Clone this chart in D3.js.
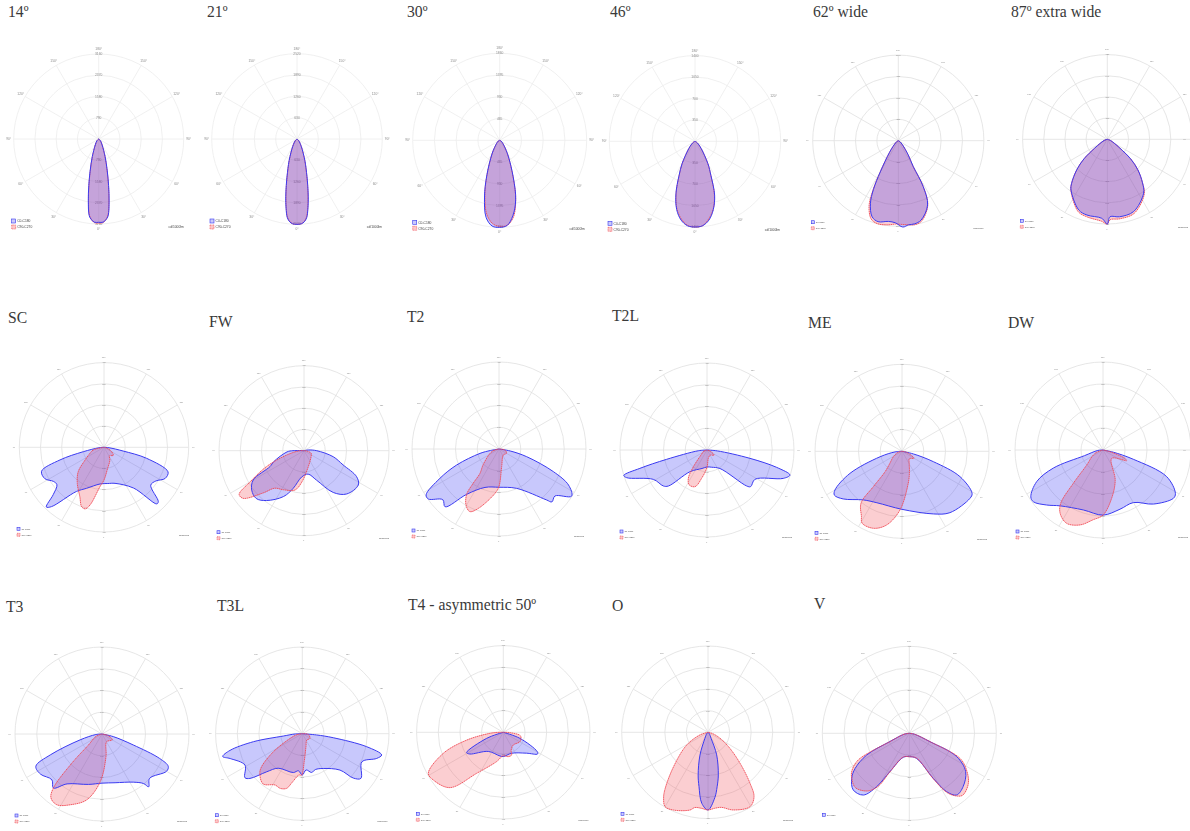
<!DOCTYPE html>
<html>
<head>
<meta charset="utf-8">
<title>Beam distributions</title>
<script src="https://cdn.jsdelivr.net/npm/d3@7"></script>
<style>
  html, body { margin: 0; background: #fff; }
  svg { display: block; }
  .ttl { font-family: "Liberation Serif", serif; font-size: 15.7px; fill: #3a3a3a; }
  .lbl { font-family: "Liberation Sans", sans-serif; fill: #8a8a8a; }
  .leg { font-family: "Liberation Sans", sans-serif; fill: #444; }
</style>
</head>
<body>
<svg id="chart" width="1190" height="831"></svg>
<script>
// ── Data: [angle in degrees, intensity as % of the outer ring] ─────────────────
const d14a = [[-90,0],[-45,3],[-30,8],[-20,22],[-15,39],[-12,56],[-9.5,74],[-7,91],[-5,95.5],[-3,98],[0,98],[3,98],[5,95.5],[7,91],[9.5,74],[12,56],[15,39],[20,22],[30,8],[45,3],[90,0]];
const d14b = [[-90,0],[-45,3],[-30,8],[-20,21.5],[-15,38],[-12,55],[-9.5,73],[-7,90],[-5,95.5],[-3,98.5],[0,99],[3,98.5],[5,95.5],[7,90],[9.5,73],[12,55],[15,38],[20,21.5],[30,8],[45,3],[90,0]];
const d21a = [[-90,0],[-45,3],[-30,10],[-20,27],[-15,45],[-13,56],[-11,69],[-9,82],[-7,93],[-5,97.5],[-3,99.5],[0,100],[3,99.5],[5,97.5],[7,93],[9,82],[11,69],[13,56],[15,45],[20,27],[30,10],[45,3],[90,0]];
const d21b = [[-90,0],[-45,3],[-30,10],[-20,26.5],[-15,44],[-13,55],[-11,68],[-9,81],[-7,92],[-5,97],[-3,99.5],[0,100],[3,99.5],[5,97],[7,92],[9,81],[11,68],[13,55],[15,44],[20,26.5],[30,10],[45,3],[90,0]];
const d30a = [[-90,0],[-60,2],[-45,5],[-30,17],[-20,43.6],[-15,67.5],[-10,90],[-5,99],[0,100],[5,98.3],[10,87.7],[15,71],[20,46],[30,18],[45,5],[60,2],[90,0]];
const d30b = [[-90,0],[-60,2],[-45,5],[-30,17],[-20,43],[-15,66],[-10,86],[-5,96],[0,99],[5,98],[10,90],[15,71],[20,45],[30,17.5],[45,5],[60,2],[90,0]];
const d46a = [[-90,0],[-60,2],[-50,5],[-40,11.6],[-30,30],[-25,44],[-20,65],[-15,82.5],[-10,93.4],[-5,99],[0,100],[5,99],[10,93.4],[15,82.5],[20,67],[25,44],[30,30],[40,11.6],[50,5],[60,2],[90,0]];
const d46b = [[-90,0],[-60,2],[-50,5],[-40,11.6],[-30,30],[-25,43.5],[-20,64.5],[-15,81.5],[-10,92],[-5,98.5],[0,100],[5,99],[10,92],[15,82],[20,66],[25,43.5],[30,30],[40,11.6],[50,5],[60,2],[90,0]];
const d62a = [[-90,0],[-60,2],[-45,7],[-37,17],[-30,42],[-27,64],[-24,80],[-19,94],[-14,97.5],[-7,95],[-2,96],[3,101],[7,99],[11,99],[16,96.5],[24.5,82.5],[28.5,61],[30,35],[35,20],[45,7],[60,2],[90,0]];
const d62b = [[-90,0],[-60,2],[-45,7],[-37,17],[-30,43],[-27,66],[-24,84],[-19,97],[-14,100],[-7,99],[-2,97.5],[3,98],[7,99],[11,100],[16,98],[24.5,83],[28.5,61],[30,35],[35,20],[45,7],[60,2],[90,0]];
const d87a = [[-90,0],[-70,4],[-60,10],[-55,18],[-50,36],[-45,51],[-39,67],[-35.6,73.6],[-22,90],[-15,92.6],[-4,93.5],[0,100],[2,91.5],[9,92.6],[20,90.8],[34,76.7],[39,66],[45,51],[50,36],[55,18],[60,10],[70,4],[90,0]];
const d87b = [[-90,0],[-70,4],[-60,10],[-55,18],[-50,36],[-45,51],[-39,67],[-35.6,74],[-22,92],[-15,94.6],[-4,97],[0,100],[2,95],[9,95],[20,93],[34,78],[39,66],[45,51],[50,36],[55,18],[60,10],[70,4],[90,0]];
const dScA = [[-90,0],[-85,6],[-78,25],[-74,54],[-69,79],[-62,79],[-56,72],[-51.5,71],[-47,82],[-44,98],[-41.5,93.5],[-32,61.5],[-23,52.6],[-6,43.5],[6,43],[17,44.5],[36,59.5],[43,91.4],[45,90.7],[51,71],[57,73],[63,81],[69,81],[75.5,52],[79,23],[85,6],[90,0]];
const dScB = [[-90,0],[-76,13],[-67,18],[-56,27],[-46.5,42],[-36.5,53],[-26,65],[-20.6,75],[-17,76],[-13.6,70],[-6,47],[0,38.6],[8,27],[25,16.5],[32,12],[49,14.5],[60,10.5],[73,4],[90,0]];
const dFwA = [[-110,0],[-90,13],[-86,20],[-70,38],[-65,44],[-60,69],[-53,77],[-45,79.5],[-37,73.4],[-24,59],[-16,46],[-5,31],[10,28],[23,37.6],[35,60],[44.6,71.5],[57.7,75.6],[63.7,69],[70,49],[78.4,35],[90,15],[100,5],[110,0]];
const dFwB = [[-100,0],[-90,5],[-76,21],[-67,48],[-60,73],[-56,92],[-52,91],[-44,69],[-38,56],[-28,52],[-13,47.5],[-4,37],[15,19.5],[49,11],[70,9],[85,3],[90,0]];
const dT2A = [[-90,0],[-80,10],[-77,22.4],[-69.3,52],[-63.6,75.8],[-57.8,99],[-54.7,99.5],[-48,87],[-43,90.8],[-35.5,64],[-20,47],[0,44],[24,49.5],[43,80],[45,86],[50,84],[57,99.5],[62.6,90],[67.4,67.7],[74.5,33],[80,13],[90,0]];
const dT2B = [[-90,0],[-75,6],[-64,11.5],[-45,26],[-38,35.5],[-37,49],[-35.5,64],[-30.5,74.7],[-25,79.4],[-19,72],[-5,51],[0,43],[8.6,20.5],[36,8.5],[60,10],[80,7],[90,0]];
const dT2LA = [[-90,0],[-85,10],[-77,47.6],[-74.7,80],[-73,100],[-71,97.7],[-61.3,70.3],[-50.5,65],[-47,60.7],[-38,31.6],[-15,22],[0,19.5],[15,20.5],[35,26],[47.8,61.6],[50,65.5],[58.6,64.6],[69.6,93.6],[73.2,99.6],[76,82.5],[79,50.3],[85,12],[90,0]];
const dT2LB = [[-90,0],[-70,4],[-53,7.7],[-39,25],[-33.4,39],[-27,45],[-18,44.3],[-10.7,33],[0,20],[9,9.7],[30,7],[54,10],[71,4],[90,0]];
const dMeA = [[-90,0],[-85,8],[-76,26],[-67,65],[-60,89],[-57,92.6],[-51,87],[-38.5,71.4],[-26,65.8],[0,66.7],[26.6,80.5],[38,89.5],[55.3,95],[59,94],[66.4,72.7],[71.7,38],[77,13.4],[90,0]];
const dMeB = [[-90,0],[-75,5],[-58,11.7],[-45,20],[-39.6,30.5],[-39,52],[-38.3,76],[-32,88],[-29,94.5],[-20.4,94.4],[-11.8,86.5],[-2,67.5],[11,37.5],[20,25],[31,16],[45,12],[60,16],[70,9],[80,4],[90,0]];
const dDwA = [[-90,0],[-85,6],[-73,22],[-70,60],[-64.5,83.5],[-57,97.8],[-53.4,98.6],[-45.7,89.5],[-37.5,80],[-18,71.7],[0,74],[16,70],[30,69],[43,84],[55.5,97],[59,96],[67.3,78.4],[73,36],[78,12],[90,0]];
const dDwB = [[-90,0],[-70,8],[-60,14],[-47.4,25],[-41.7,50.7],[-38.4,77.4],[-34,87],[-26.4,93],[-17,89],[-8,80],[0,74],[10,56],[22,37],[46,13.7],[65.7,29.5],[69,26.7],[76,8],[90,0]];
const dT3A = [[-90,0],[-85,7],[-75,26],[-68,64],[-64,84.6],[-57,84.5],[-47.6,78],[-42,83.5],[-35,70],[-15,60],[0,56.5],[15,58],[33,66],[40,74.3],[41.5,81],[47,74.8],[60,85.7],[64,84.7],[67,72],[70.7,38],[77,13.3],[90,0]];
const dT3B = [[-90,0],[-70,7],[-51,20],[-46,48],[-42,83.5],[-38.6,94],[-32.6,96.5],[-24,89],[-13,77.6],[-2,54.6],[10,26.4],[31,10.3],[60,13.7],[75,7.5],[90,0]];
const dT3LA = [[-90,0],[-88,8],[-83,22],[-80.7,57],[-77,85.6],[-74,95.5],[-71,88],[-61.3,75.4],[-52.5,83.4],[-49.5,79.4],[-43,60],[-35,48.6],[-13,46],[-6,43],[0,47.7],[6,42],[13.5,46],[20,44],[31,46.8],[46,60.4],[49,78],[52.7,85],[64.7,76],[71.6,90.4],[75,94.8],[78.6,75.7],[82.6,36],[85,16.6],[90,0]];
const dT3LB = [[-90,0],[-80,6],[-69,15],[-58,39.4],[-51,60.4],[-47,67],[-38,73.5],[-28,67],[-22,68],[-16,65.6],[-12,57.8],[-4.6,47.8],[-1,48],[4,32],[15.7,15.6],[35,9],[58.7,10.4],[83,7],[90,0]];
const dT4A = [[-90,0],[-70,20.4],[-61,48.4],[-57,46],[-38,28],[-8,27.6],[0,28],[21.6,26],[48,36],[57.7,46.8],[60.4,45],[70,20.4],[90,0]];
const dT4B = [[-95,0],[-90,5],[-85.7,15.4],[-78,43],[-70.7,73.3],[-61.3,98.6],[-55.7,97.7],[-44,88.7],[-33,56.4],[-13,34.7],[0,27],[11.6,28.7],[20,28],[23,23],[38,18.6],[60.7,22],[78,20.4],[87,8],[90,0]];
const dOA = [[-90,0],[-45,2],[-27,8],[-19.4,28],[-13,50.7],[-9.4,63.8],[-5,82.6],[0,90],[6,76],[9.5,64],[13.6,50.8],[21,28],[27,8],[45,2],[90,0]];
const dOB = [[-90,0],[-72,9.8],[-59,29],[-45,56.5],[-37,83],[-34,92],[-30,99.5],[-24,98.6],[-13,92.4],[-10,88.5],[-5,88.4],[0,90],[5,88.4],[10,88.3],[18,94.6],[29.5,99],[35.6,91.6],[39.5,76.5],[46,51.6],[55,29],[65,14],[75,5],[90,0]];
const dVA = [[-90,0],[-80,6],[-67,24],[-63,55],[-57,74.3],[-52,84],[-44.7,91.6],[-36.7,88.5],[-31.5,72],[-26.8,49.3],[-14,28.4],[0,26.8],[16,30],[28,58.6],[32.6,79.6],[37.5,89.4],[45.4,87],[55.8,78.3],[63.8,60.7],[68,25.6],[80,6],[90,0]];
const dVB = [[-90,0],[-80,6],[-67,24],[-63,63.6],[-60,73],[-56,80],[-52,84],[-45,88],[-38,84],[-34,79],[-30,69],[-26.8,50],[-14,28],[0,27],[16,29.5],[28,60],[32.6,81],[37.5,91],[41,94],[49.7,89],[57.4,78],[63.7,65],[68,25.6],[80,6],[90,0]];

const titles = ['14º','21º','30º','46º','62º wide','87º extra wide','SC','FW','T2','T2L','ME','DW','T3','T3L','T4 - asymmetric 50º','O','V'];
const seriesA = [d14a,d21a,d30a,d46a,d62a,d87a,dScA,dFwA,dT2A,dT2LA,dMeA,dDwA,dT3A,dT3LA,dT4A,dOA,dVA];
const seriesB = [d14b,d21b,d30b,d46b,d62b,d87b,dScB,dFwB,dT2B,dT2LB,dMeB,dDwB,dT3B,dT3LB,dT4B,dOB,dVB];
const ringLabels = [
  ['790','1580','2370','3160'],['630','1260','1890','2520'],['465','930','1395','1860'],['350','700','1050','1400'],
  ['250','500','750','1000'],['180','360','540','720'],['100','200','300','400'],['100','200','300','400'],
  ['100','200','300','400'],['100','200','300','400'],['100','200','300','400'],['100','200','300','400'],
  ['100','200','300','400'],['100','200','300','400'],['100','200','300','400'],['100','200','300','400'],['100','200','300','400']
];
const ringValues = [25, 50, 75, 100];
const spokes = [0, 30, 60, 90, 120, 150, 180, 210, 240, 270, 300, 330];
const angleNames = ['0°','30°','60°','90°','120°','150°','180°','150°','120°','90°','60°','30°'];
const legendA = 'C0-C180', legendB = 'C90-C270', unit = 'cd/1000lm';

// ── Layout ─────────────────────────────────────────────────────────────────────
const centers = [[98.7,139,85],[297,139,85.3],[499.7,140.3,87],[695,141.3,85.7],[898.3,140.7,85.6],[1107.3,139.3,84.7],
  [104,447.3,84.7],[304,450.7,85],[499,449,87],[707,450,87],[902,451.3,87],[1103,450,88],
  [102,734,87],[302.3,733.7,86.7],[503.3,732.3,86.7],[708,732.3,86.3],[909.3,733.3,87]];
const titlePos = [[8,17],[207,17],[407,17],[610,17],[813,17],[1011,17],
  [8,323],[209,327],[407,322],[612,321],[808,328],[1008,328],
  [6,612],[217,611],[408,610],[612,611],[814,609]];

const BLUE = '#3a3af0', RED = '#f04a55';
const PAGE_W = 1190;
const svg = d3.select('#chart');

function drawPolar(i) {
  const [cx, cy, R] = centers[i];
  const big = i < 4;                 // first four charts were exported with larger type
  const edge = PAGE_W - 2 - cx;      // keep small labels inside the page
  const r = d3.scaleLinear().domain([0, 100]).range([0, R]);
  const rad = a => a * Math.PI / 180;
  const shape = d3.lineRadial()
    .angle(d => Math.PI - rad(d[0]))
    .radius(d => r(d[1]))
    .curve(d3.curveCatmullRomClosed.alpha(0.5));

  const g = svg.append('g').attr('transform', `translate(${cx},${cy})`).style('filter', 'blur(0.35px)');
  const gridClr = big ? '#ececec' : '#e0e0e0';
  const fs = big ? 3.3 : 2.2;

  g.selectAll('circle.ring').data(ringValues).join('circle').attr('class', 'ring')
    .attr('r', d => r(d)).attr('fill', 'none').attr('stroke', gridClr).attr('stroke-width', 0.8);
  g.selectAll('line.spoke').data(spokes).join('line').attr('class', 'spoke')
    .attr('x1', 0).attr('y1', 0)
    .attr('x2', d => r(100) * Math.sin(rad(d)))
    .attr('y2', d => r(100) * Math.cos(rad(d)))
    .attr('stroke', gridClr).attr('stroke-width', 0.8);

  g.selectAll('text.ang').data(spokes).join('text').attr('class', 'lbl ang')
    .attr('x', d => Math.min((R + 5) * Math.sin(rad(d)), edge - 3))
    .attr('y', d => (R + 5) * Math.cos(rad(d)) + fs * 0.35)
    .attr('text-anchor', 'middle').attr('font-size', fs)
    .text((d, k) => angleNames[k]);
  ringValues.forEach((v, k) => {
    [-1, 1].forEach(s => {
      g.append('text').attr('class', 'lbl').attr('x', 0).attr('y', s * r(v) + fs * 0.35)
        .attr('text-anchor', 'middle').attr('font-size', fs).text(ringLabels[i][k]);
    });
  });

  // fills: red under blue, outlines on top
  g.append('path').attr('d', shape(seriesB[i])).attr('fill', RED).attr('fill-opacity', 0.27);
  g.append('path').attr('d', shape(seriesA[i])).attr('fill', '#2a2af5').attr('fill-opacity', 0.26);
  const lineA = () => g.append('path').attr('d', shape(seriesA[i])).attr('fill', 'none').attr('stroke', BLUE).attr('stroke-width', 1);
  const lineB = () => g.append('path').attr('d', shape(seriesB[i])).attr('fill', 'none').attr('stroke', RED).attr('stroke-width', 0.9).attr('stroke-dasharray', '1.6 0.5');
  if (i < 6) { lineB(); lineA(); } else { lineA(); lineB(); }

  // legend + unit
  const lf = big ? 3.3 : 2.2, box = big ? 4 : 3;
  const lx = -87, ly = 80;
  g.append('rect').attr('x', lx).attr('y', ly).attr('width', box).attr('height', box)
    .attr('fill', '#c9c9fb').attr('stroke', BLUE).attr('stroke-width', 0.6);
  g.append('text').attr('class', 'leg').attr('x', lx + box + 1.5).attr('y', ly + box - 0.6).attr('font-size', lf).text(legendA);
  if (i !== 16) {
    g.append('rect').attr('x', lx).attr('y', ly + 6).attr('width', box).attr('height', box)
      .attr('fill', '#fcc9c9').attr('stroke', RED).attr('stroke-width', 0.6).attr('stroke-dasharray', '1 0.5');
    g.append('text').attr('class', 'leg').attr('x', lx + box + 1.5).attr('y', ly + 6 + box - 0.6).attr('font-size', lf).text(legendB);
    g.append('text').attr('class', 'leg').attr('x', Math.min(85, edge)).attr('y', ly + 6 + box - 0.6).attr('text-anchor', 'end').attr('font-size', lf).text(unit);
  }

  svg.append('text').attr('class', 'ttl').attr('x', titlePos[i][0]).attr('y', titlePos[i][1]).text(titles[i]);
}

titles.forEach((t, i) => drawPolar(i));
</script>
</body>
</html>
